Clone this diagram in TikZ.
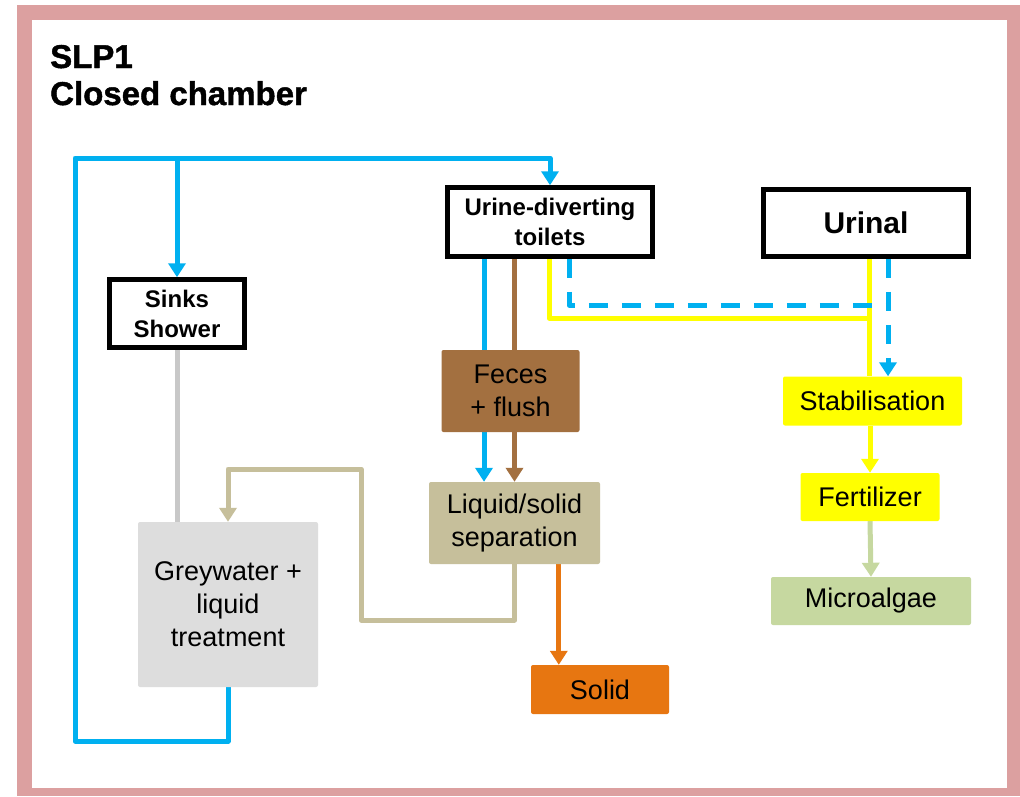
\documentclass[tikz,border=0pt]{standalone}
\usepackage{fontspec}
\setmainfont{Liberation Sans}
\newfontfamily\heavyfont[FakeBold=1.3]{Liberation Sans Bold}
\usetikzlibrary{arrows.meta}
\definecolor{cblue}{HTML}{00B0F0}
\definecolor{cyellow}{HTML}{FFFF00}
\definecolor{cbrown}{HTML}{A37040}
\definecolor{ctan}{HTML}{C6BF9B}
\definecolor{corange}{HTML}{E77611}
\definecolor{cgreybox}{HTML}{DDDDDD}
\definecolor{cgreyline}{HTML}{C8C8C8}
\definecolor{cgreen}{HTML}{C6D8A0}
\definecolor{cpink}{HTML}{DCA0A0}
\pgfdeclarelayer{framelayer}
\pgfdeclarelayer{linelayer}
\pgfsetlayers{framelayer,linelayer,main}
\tikzset{
  wbox/.style={draw=black, line width=4.5pt, fill=white, align=center, inner sep=0pt,
    font=\bfseries\fontsize{24}{30}\selectfont},
  cbox/.style={rounded corners=2pt, align=center, inner sep=0pt,
    font=\fontsize{27}{33}\selectfont},
  flow/.style={line width=5pt, line join=round},
  tip/.style={-{Triangle[width=17pt,length=14pt]}},
  dashflow/.style={flow, dash pattern=on 19pt off 14pt},
  titletext/.style={anchor=base west, inner sep=0pt, font=\heavyfont\fontsize{33}{38}\selectfont},
}
\begin{document}
\begin{tikzpicture}[x=1pt,y=-1pt]
\useasboundingbox (0,0) rectangle (1020,796);
\begin{pgfonlayer}{framelayer}
  \fill[white] (0,0) rectangle (1020,796);
  \fill[cpink] (17,5) rectangle (1020,796);
  \fill[white] (32,20) rectangle (1007,788);
\end{pgfonlayer}

% title
\node[titletext] (t1) at (50,68) {SLP1};
\node[titletext] (t2) at (50,105) {Closed chamber};

% nodes
\node[wbox, minimum width=135pt, minimum height=68pt] (sk) at (177,313.5) {Sinks\\Shower};
\node[wbox, minimum width=205pt, minimum height=69pt] (ud) at (550,222) {Urine-diverting\\toilets};
\node[wbox, minimum width=205pt, minimum height=67pt, font=\bfseries\fontsize{30}{35}\selectfont] (ur) at (866,223) {Urinal};

\node[cbox, fill=cbrown, minimum width=138pt, minimum height=82pt] (fe) at (510.5,391) {Feces\\+ flush};
\node[cbox, fill=ctan, minimum width=171pt, minimum height=82pt] (ls) at (514.5,523) {Liquid/solid\\separation};
\node[cbox, fill=cgreybox, minimum width=180pt, minimum height=165pt] (gw) at (228,604.5) {Greywater +\\liquid\\treatment};
\node[cbox, fill=corange, minimum width=138pt, minimum height=49pt] (so) at (600,689.5) {Solid};
\node[cbox, fill=cyellow, minimum width=179pt, minimum height=49pt] (st) at (872.5,401) {Stabilisation};
\node[cbox, fill=cyellow, minimum width=139pt, minimum height=48pt] (fz) at (870,497) {Fertilizer};
\node[cbox, fill=cgreen, minimum width=200pt, minimum height=48pt] (mi) at (871,601) {Microalgae};

% helper coordinates
\coordinate (tl) at (75,158);
\coordinate (bl) at (75,741);
\coordinate (yj) at (869,318);
\coordinate (dj) at (888,305);
\coordinate (tb) at (361,620);
\coordinate (tt) at (361,469);

\begin{pgfonlayer}{linelayer}
  % blue water loop
  \draw[flow, cblue, tip] (gw.south) |- (bl) -- (tl) -| (ud.north);
  \draw[flow, cblue, tip] (sk.north |- tl) -- (sk.north);
  % grey
  \draw[flow, cgreyline] (sk.south) -- (sk.south |- gw.north);
  % blue and brown from toilets
  \draw[flow, cblue, tip] ([xshift=-66pt]ud.south) -- ([xshift=-66pt]ud.south |- ls.north);
  \draw[flow, cbrown, tip] (ls.north |- ud.south) -- (ls.north);
  % yellow urine
  \draw[flow, cyellow] ([xshift=-1pt]ud.south) |- (yj);
  \draw[flow, cyellow] ([xshift=3pt]ur.south) -- ([xshift=3pt]ur.south |- st.north);
  \draw[flow, cyellow, tip] (st.south -| fz.north) -- (fz.north);
  % dashed blue
  \draw[dashflow, cblue] ([xshift=19pt]ud.south) |- (dj);
  \draw[dashflow, cblue, tip] ([xshift=22pt]ur.south) -- ([xshift=22pt]ur.south |- st.north);
  % green
  \draw[flow, cgreen, tip] (fz.south) -- (mi.north);
  % tan return
  \draw[flow, ctan, tip] (ls.south) |- (tb) -- (tt) -| (gw.north);
  % orange
  \draw[flow, corange, tip] ([xshift=28pt]so.north west |- ls.south) -- ([xshift=28pt]so.north west);
\end{pgfonlayer}
\end{tikzpicture}
\end{document}
